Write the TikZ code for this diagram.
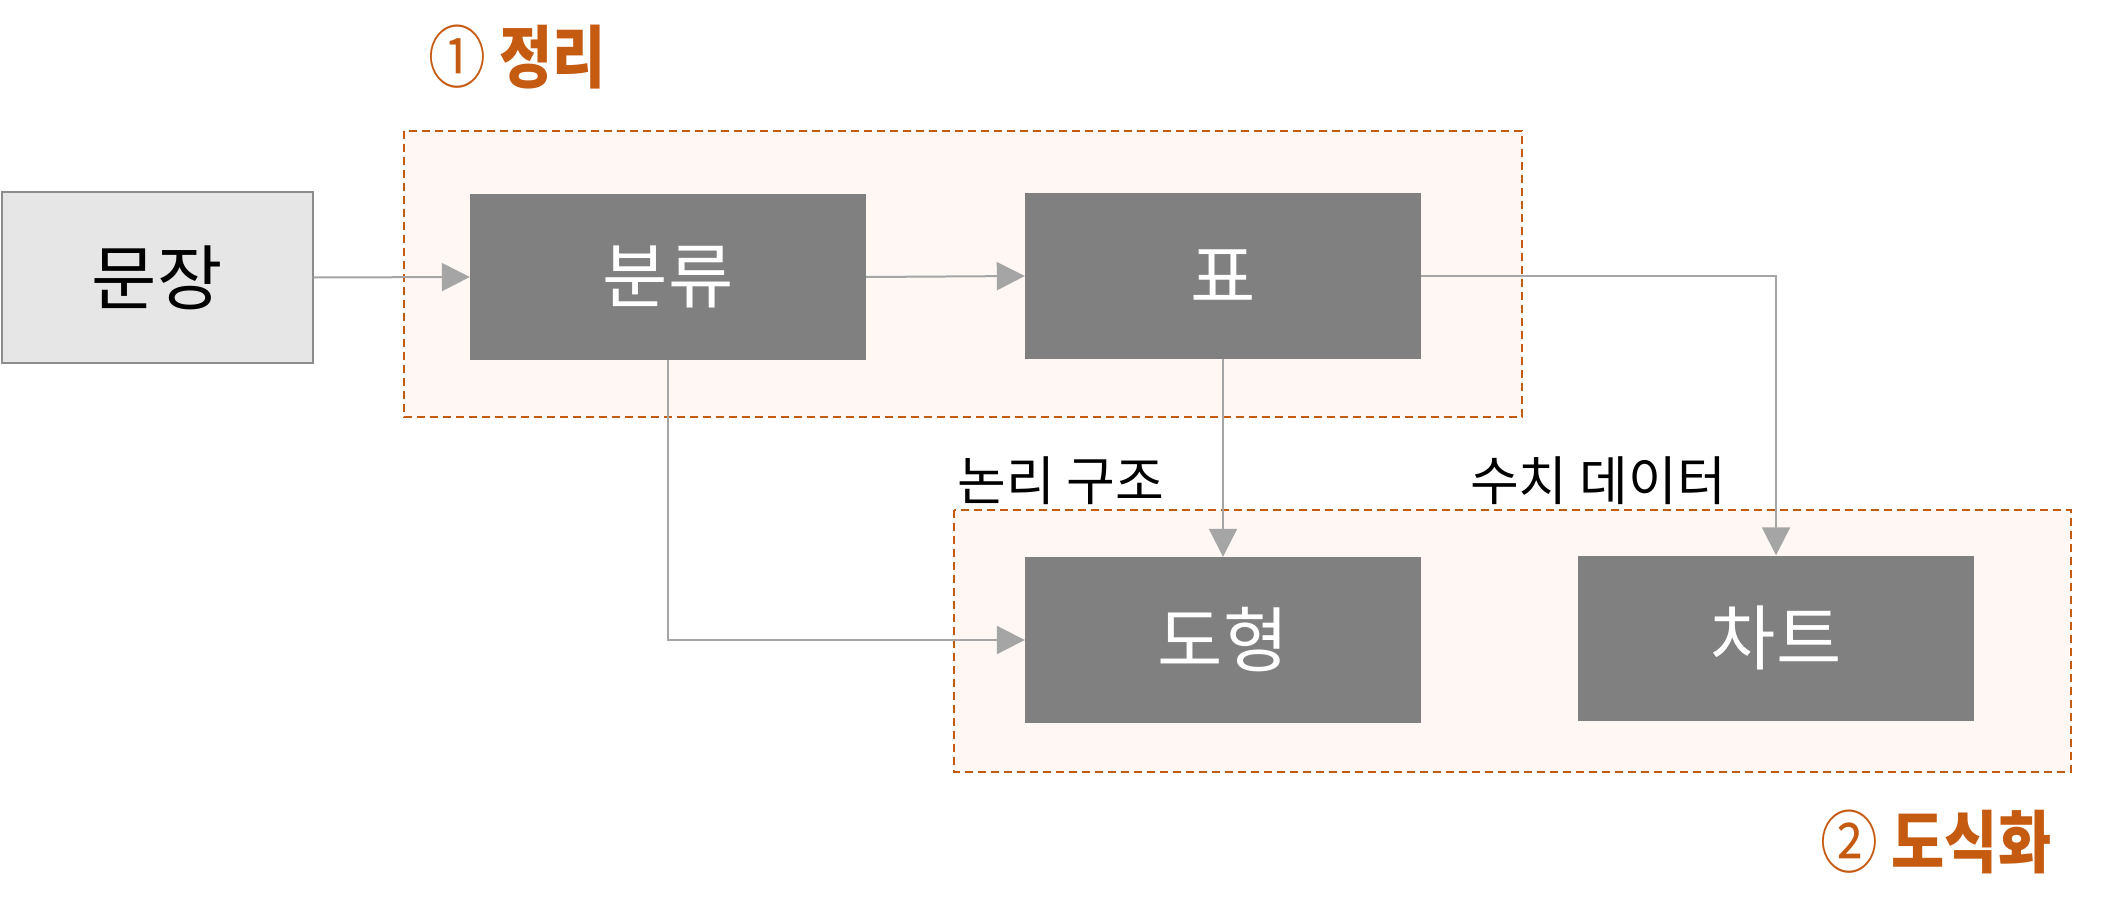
\documentclass[tikz,border=0pt]{standalone}
\usepackage{fontspec}
\setmainfont{Noto Sans CJK KR}
\usetikzlibrary{arrows.meta}
\definecolor{boxgray}{HTML}{808080}
\definecolor{lightbox}{HTML}{E7E6E6}
\definecolor{edgegray}{HTML}{8C8C8C}
\definecolor{arrowgray}{HTML}{A5A5A5}
\definecolor{orangeline}{HTML}{C55A11}
\definecolor{groupfill}{HTML}{FEF7F4}
\tikzset{
  darkbox/.style={rectangle, fill=boxgray, draw=none, inner sep=0pt,
    minimum width=396pt, minimum height=166pt, text=white,
    font=\fontsize{71}{76}\selectfont},
  inbox/.style={rectangle, fill=lightbox, draw=edgegray, line width=2pt, inner sep=0pt,
    minimum width=311pt, minimum height=171pt, text=black,
    font=\fontsize{71}{76}\selectfont},
  groupbox/.style={draw=orangeline, fill=groupfill, line width=2pt, dash pattern=on 8pt off 5pt},
  flow/.style={draw=arrowgray, line width=2pt, -{Triangle[length=28pt,width=28pt]}},
  lbl/.style={inner sep=0pt, text=black, font=\fontsize{53}{58}\selectfont},
  ttl/.style={inner sep=0pt, text=orangeline, font=\bfseries\fontsize{68}{74}\selectfont},
}
\begin{document}
\begin{tikzpicture}[x=1pt,y=-1pt]
\useasboundingbox (0,0) rectangle (2106,920);
% group frames
\draw[groupbox] (404,131) rectangle (1522,417);
\draw[groupbox] (954,510) rectangle (2071,772);
% nodes
\node[inbox] (sent) at (157,277.5) {문장};
\node[darkbox] (bunryu) at (668,277) {분류};
\node[darkbox] (pyo) at (1223,276) {표};
\node[darkbox] (dohyeong) at (1223,640) {도형};
\node[darkbox, minimum height=165pt] (chart) at (1776,638) {차트};
% labels
\node[lbl] (logic) at (1061,481) {논리 구조};
\node[lbl] (numeric) at (1598,481) {수치 데이터};
\node[ttl, xscale=0.85] (t1) at (517,57) {{\mdseries ①} 정리};
\node[ttl, xscale=0.85] (t2) at (1936,842) {{\mdseries ②} 도식화};
% connectors
\draw[flow] (sent.east) -- (bunryu.west);
\draw[flow] (bunryu.east) -- (pyo.west);
\draw[flow] (pyo.east) -| (chart.north);
\draw[flow] (pyo.south) -- (dohyeong.north);
\draw[flow] (bunryu.south) |- (dohyeong.west);
\end{tikzpicture}
\end{document}
